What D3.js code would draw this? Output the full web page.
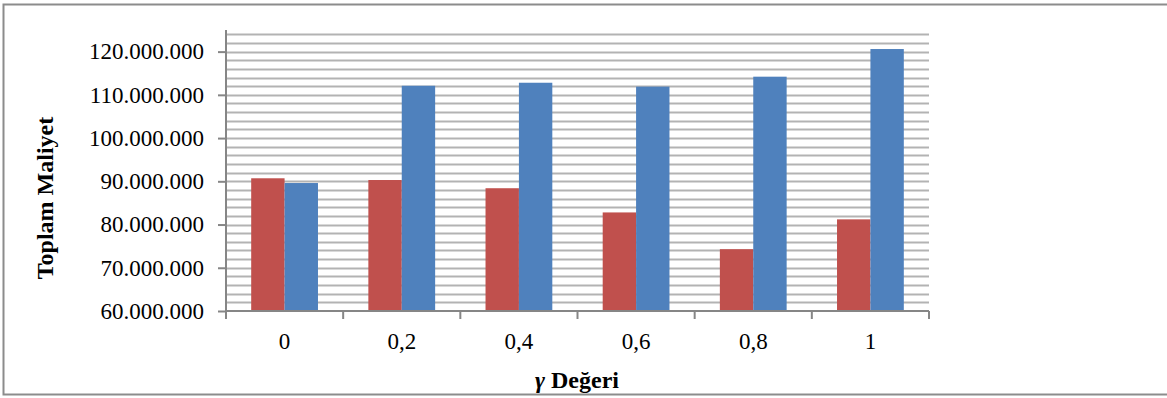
<!DOCTYPE html>
<html>
<head>
<meta charset="utf-8">
<script src="https://cdn.jsdelivr.net/npm/d3@7"></script>
<style>
  html, body { margin: 0; padding: 0; background: #fff; }
  svg { display: block; font-family: "Liberation Serif", "Times New Roman", serif; }
</style>
</head>
<body>
<svg id="chart" width="1167" height="398"></svg>
<script>
// γ values and the two cost series (Toplam Maliyet)
const categories = ["0", "0,2", "0,4", "0,6", "0,8", "1"];
const seriesRed  = [90700000, 90300000, 88400000, 82800000, 74300000, 81200000];
const seriesBlue = [89600000, 112100000, 112800000, 111900000, 114200000, 120600000];
const yTickValues = [60000000, 70000000, 80000000, 90000000, 100000000, 110000000, 120000000];
const yTickLabels = ["60.000.000", "70.000.000", "80.000.000", "90.000.000", "100.000.000", "110.000.000", "120.000.000"];

const svg = d3.select("#chart");
const W = 1167, H = 398;

// outer chart frame
svg.append("rect")
  .attr("x", 3.5).attr("y", 4.5)
  .attr("width", W + 10).attr("height", 390)
  .attr("fill", "none").attr("stroke", "#8c8c8c").attr("stroke-width", 2);

const plot = { left: 226, right: 929, top: 30, bottom: 311 };

const x = d3.scaleBand().domain(categories).range([plot.left, plot.right]).paddingInner(0).paddingOuter(0);
const y = d3.scaleLinear().domain([60000000, 125000000]).range([plot.bottom, plot.top]);

// horizontal gridlines every 2.000.000
const gridValues = d3.range(62000000, 125000001, 2000000);
svg.append("g").selectAll("line").data(gridValues).join("line")
  .attr("x1", plot.left).attr("x2", plot.right)
  .attr("y1", d => Math.round(y(d)) + 0.5).attr("y2", d => Math.round(y(d)) + 0.5)
  .attr("stroke", "#b3b3b3").attr("stroke-width", 2);

// bars: each category has two bars side by side
const barW = x.bandwidth() * 0.285;
const groupW = barW * 2;
const data = categories.map((c, i) => ({ c, red: seriesRed[i], blue: seriesBlue[i] }));
const groups = svg.append("g").selectAll("g").data(data).join("g")
  .attr("transform", d => `translate(${x(d.c) + (x.bandwidth() - groupW) / 2},0)`);
groups.append("rect")
  .attr("x", 0).attr("width", barW)
  .attr("y", d => y(d.red)).attr("height", d => y(60000000) - y(d.red))
  .attr("fill", "#C0504D");
groups.append("rect")
  .attr("x", barW).attr("width", barW)
  .attr("y", d => y(d.blue)).attr("height", d => y(60000000) - y(d.blue))
  .attr("fill", "#4F81BD");

// y axis
const yAxis = d3.axisLeft(y)
  .tickValues(yTickValues)
  .tickFormat((d, i) => yTickLabels[i])
  .tickSize(8).tickPadding(14);
const gy = svg.append("g").attr("transform", `translate(${plot.left},0)`).call(yAxis);
gy.select(".domain").attr("d", `M0,${plot.top}V${plot.bottom}`).attr("stroke", "#868686").attr("stroke-width", 2);
gy.selectAll(".tick line").attr("stroke", "#868686").attr("stroke-width", 2);
gy.selectAll(".tick text").attr("fill", "#000").style("font-size", "23px")
  .style("font-family", "'Liberation Serif', 'Times New Roman', serif");

// x axis: ticks at category boundaries, labels centred in each band
const gx = svg.append("g").attr("transform", `translate(0,${plot.bottom})`);
gx.append("line").attr("x1", plot.left).attr("x2", plot.right).attr("y1", 0).attr("y2", 0)
  .attr("stroke", "#868686").attr("stroke-width", 2);
const boundaries = categories.map(c => x(c)).concat([plot.right]);
gx.selectAll("line.tk").data(boundaries).join("line").attr("class", "tk")
  .attr("x1", d => d).attr("x2", d => d).attr("y1", 0).attr("y2", 8)
  .attr("stroke", "#868686").attr("stroke-width", 2);
gx.selectAll("text").data(categories).join("text")
  .attr("x", d => x(d) + x.bandwidth() / 2).attr("y", 38)
  .attr("text-anchor", "middle").style("font-size", "23px").attr("fill", "#000")
  .text(d => d);

// axis titles
svg.append("text")
  .attr("transform", "translate(53,198) rotate(-90)")
  .attr("text-anchor", "middle")
  .style("font-size", "24px").style("font-weight", "bold")
  .text("Toplam Maliyet");

const xt = svg.append("text")
  .attr("x", 577).attr("y", 388)
  .attr("text-anchor", "middle")
  .style("font-size", "24px").style("font-weight", "bold");
xt.append("tspan").style("font-style", "italic").text("γ");
xt.append("tspan").text(" Değeri");
</script>
</body>
</html>
